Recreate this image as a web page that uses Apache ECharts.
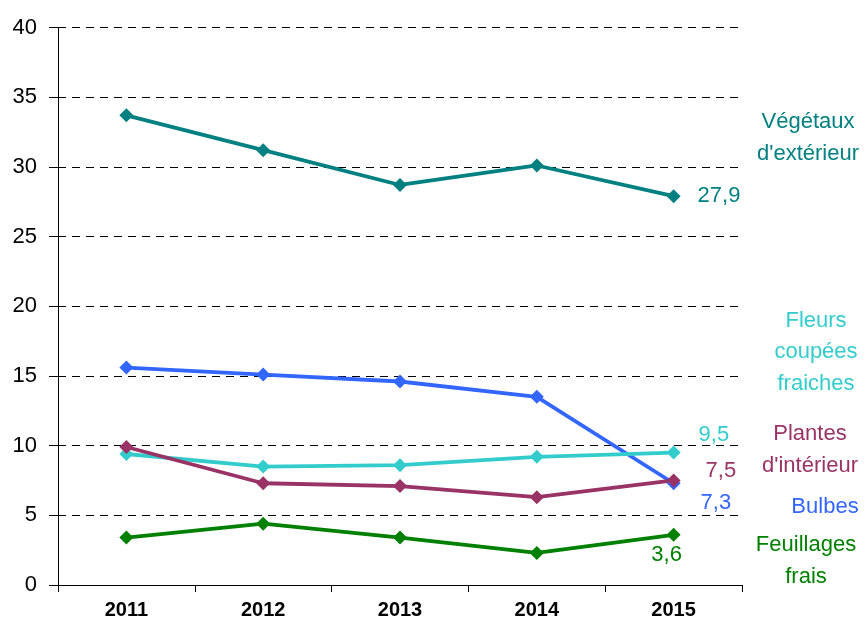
<!DOCTYPE html>
<html><head><meta charset="utf-8">
<script src="https://cdn.jsdelivr.net/npm/echarts@6/dist/echarts.min.js"></script>
<style>html,body{margin:0;padding:0;background:#fff}#c{width:867px;height:620px}</style>
</head><body><div id="c"></div>
<script>
const years = ['2011','2012','2013','2014','2015'];
const yTicks = [0,5,10,15,20,25,30,35,40];
const vegetaux = [33.7, 31.2, 28.7, 30.1, 27.9];
const bulbes = [15.6, 15.1, 14.6, 13.5, 7.3];
const fleurs = [9.4, 8.5, 8.6, 9.2, 9.5];
const plantes = [9.9, 7.3, 7.1, 6.3, 7.5];
const feuillages = [3.4, 4.4, 3.4, 2.3, 3.6];
const names = ["Végétaux\nd'extérieur", "Bulbes", "Fleurs\ncoupées\nfraiches", "Plantes\nd'intérieur", "Feuillages\nfrais"];

const fmt = v => String(v).replace('.', ',');
const FONT = '"Liberation Sans", Arial, sans-serif';

function mk(name, data, color, lab) {
  return {
    name: name, type: 'line', data: data.map((v, i) => i === data.length - 1 ? {
      value: v,
      label: Object.assign({show: true, color: color, fontSize: 22, fontFamily: FONT,
        formatter: p => fmt(p.value)}, lab)
    } : v),
    symbol: 'diamond', symbolSize: 14, showSymbol: true,
    lineStyle: {color: color, width: 3.8},
    itemStyle: {color: color},
    z: 3, animation: false
  };
}

const chart = echarts.init(document.getElementById('c'));
chart.setOption({
  animation: false,
  grid: {left: 58, right: 125, top: 27.5, bottom: 35, containLabel: false},
  xAxis: {
    type: 'category', data: years, boundaryGap: true,
    axisLine: {lineStyle: {color: '#000', width: 1}},
    axisTick: {show: true, length: 7, lineStyle: {color: '#000'}},
    axisLabel: {color: '#000', fontWeight: 'bold', fontSize: 20, fontFamily: FONT, margin: 15}
  },
  yAxis: {
    type: 'value', min: yTicks[0], max: yTicks[yTicks.length - 1], interval: 5,
    axisLine: {show: true, lineStyle: {color: '#000', width: 1}},
    axisTick: {show: true, length: 9, lineStyle: {color: '#000'}},
    axisLabel: {color: '#000', fontSize: 22, fontFamily: FONT, margin: 21},
    splitLine: {show: true, lineStyle: {color: '#000', width: 1, type: [8, 6]}}
  },
  series: [
    mk(names[0], vegetaux, '#008080', {position: 'right', distance: 17}),
    mk(names[1], bulbes, '#3366FF', {position: 'right', distance: 20, offset: [0, 20]}),
    mk(names[2], fleurs, '#33CCCC', {position: 'right', distance: 18, offset: [0, -18]}),
    mk(names[3], plantes, '#993366', {position: 'right', distance: 25, offset: [0, -10]}),
    mk(names[4], feuillages, '#008000', {position: 'bottom', distance: 2, offset: [-7, 0]})
  ],
  graphic: [
    {type: 'text', x: 808, y: 106, style: {text: names[0], fill: '#008080', font: '22px ' + FONT, textAlign: 'center', lineHeight: 32}},
    {type: 'text', x: 816, y: 305, style: {text: names[2], fill: '#33CCCC', font: '22px ' + FONT, textAlign: 'center', lineHeight: 31.5}},
    {type: 'text', x: 810, y: 418, style: {text: names[3], fill: '#993366', font: '22px ' + FONT, textAlign: 'center', lineHeight: 32}},
    {type: 'text', x: 825, y: 491, style: {text: names[1], fill: '#3366FF', font: '22px ' + FONT, textAlign: 'center', lineHeight: 32}},
    {type: 'text', x: 806, y: 529, style: {text: names[4], fill: '#008000', font: '22px ' + FONT, textAlign: 'center', lineHeight: 32}}
  ]
});
</script></body></html>
